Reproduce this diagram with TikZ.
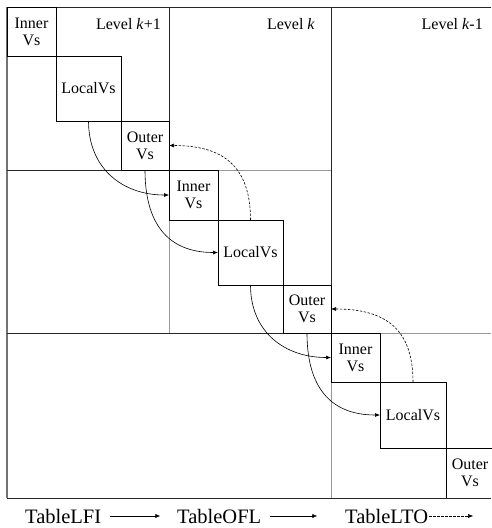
\documentclass[tikz,border=0pt]{standalone}
\usepackage{fontspec}
\setmainfont{Liberation Serif}
\usetikzlibrary{arrows.meta}
\begin{document}
\begin{tikzpicture}[x=1pt,y=-1pt,
  frame/.style={line width=0.9pt, black!85},
  blockedge/.style={line width=0.8pt, black!40},
  vbox/.style={draw, line width=0.8pt, inner sep=0pt, outer sep=0pt,
    anchor=north west, align=center, font=\fontsize{16}{17}\selectfont},
  lvl/.style={anchor=base east, inner sep=0pt, font=\fontsize{16}{17}\selectfont},
  flow/.style={line width=0.6pt, -{Latex[length=5pt,width=4pt]}},
  back/.style={flow, dash pattern=on 2.5pt off 1.5pt},
  legend/.style={anchor=base west, inner sep=0pt, font=\fontsize{20.5}{24}\selectfont},
  lflow/.style={line width=0.5pt, -{Latex[length=5pt,width=4pt]}},
  lback/.style={lflow, dash pattern=on 2.5pt off 1.5pt},
]
\useasboundingbox (0,0) rectangle (491,528);

% outer frame and the row/column rules of the staircase
\draw[frame] (491,7) -- (7,7) -- (7,498) -- (491,498);
\draw[line width=1.4pt, black!55] (7,7) -- (7,498);
\draw[frame] (169,7) -- (169,170) -- (7,170);
\draw[frame] (331,7) -- (331,333) -- (7,333);

% edges of the level blocks k and k-1
\draw[blockedge] (218,170) -- (331,170);
\draw[blockedge] (169,220) -- (169,333);
\draw[blockedge] (380,333) -- (491,333);
\draw[blockedge] (331,382) -- (331,498);

% level titles
\node[lvl] (lv1) at (161,29) {Level \textit{k}+1};
\node[lvl] (lv2) at (315,29) {Level \textit{k}};
\node[lvl] (lv3) at (483,29) {Level \textit{k}-1};

% level k+1
\node[vbox, minimum width=49pt, minimum height=49pt] (ia) at (7,7) {Inner\\Vs};
\node[vbox, minimum width=65pt, minimum height=65pt] (la) at (56,56) {LocalVs};
\node[vbox, minimum width=48pt, minimum height=49pt] (oa) at (121,121) {Outer\\Vs};

% level k
\node[vbox, minimum width=49pt, minimum height=50pt] (ib) at (169,170) {Inner\\Vs};
\node[vbox, minimum width=65pt, minimum height=65pt] (lb) at (218,220) {LocalVs};
\node[vbox, minimum width=48pt, minimum height=48pt] (ob) at (283,285) {Outer\\Vs};

% level k-1
\node[vbox, minimum width=49pt, minimum height=49pt] (ic) at (331,333) {Inner\\Vs};
\node[vbox, minimum width=66pt, minimum height=66pt] (lc) at (380,382) {LocalVs};
\node[vbox, draw=none, minimum width=48pt, minimum height=50pt] (oc) at (446,448) {Outer\\Vs};
\draw[line width=0.8pt] (oc.south west) -- (oc.north west) -- (oc.north east);

% transfers between levels
\draw[flow] (la.south) to[out=-90,in=180,looseness=1.1] (ib.west);
\draw[flow] (oa.south) to[out=-90,in=180,looseness=1.2] (lb.west);
\draw[back] (lb.north) to[out=90,in=0,looseness=1.25] (oa.east);
\draw[flow] (lb.south) to[out=-90,in=180,looseness=1.1] (ic.west);
\draw[flow] (ob.south) to[out=-90,in=180,looseness=1.2] (lc.west);
\draw[back] (lc.north) to[out=90,in=0,looseness=1.25] (ob.east);

% legend
\node[legend] (t1) at (25,523) {TableLFI};
\node[legend] (t2) at (177,523) {TableOFL};
\node[legend] (t3) at (345,523) {TableLTO};
\path (t1.east) ++(59,0) coordinate (e1);
\path (t2.east) ++(56,0) coordinate (e2);
\path (t3.east) ++(45,0) coordinate (e3);
\draw[lflow] ([xshift=9]t1.east) -- (e1);
\draw[lflow] ([xshift=9]t2.east) -- (e2);
\draw[lback] ([xshift=1]t3.east) -- (e3);
\end{tikzpicture}
\end{document}
